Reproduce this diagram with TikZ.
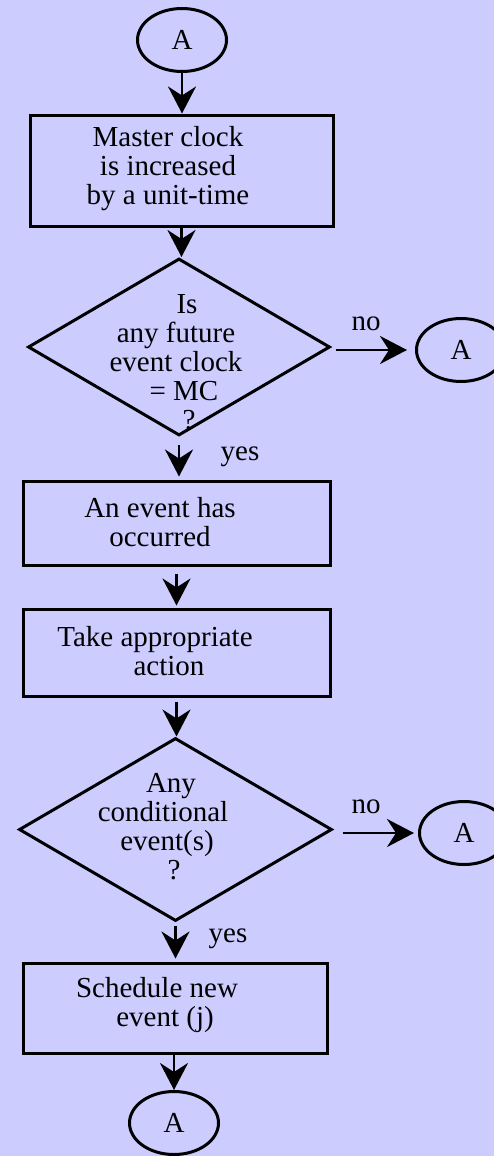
\documentclass[tikz,border=0pt]{standalone}
\usepackage{fontspec}
\setmainfont{Liberation Serif}
\usetikzlibrary{shapes.geometric,arrows.meta,calc}
\definecolor{bg}{HTML}{CCCCFF}

\begin{document}
\begin{tikzpicture}[x=1pt,y=-1pt,
  every node/.style={font=\fontsize{29}{29}\selectfont},
  stepbox/.style={draw,line width=3pt,rectangle,inner sep=0pt},
  decision/.style={draw,line width=3pt,diamond,inner sep=0pt},
  connector/.style={draw,line width=3pt,ellipse,inner sep=0pt,
    minimum width=89pt,minimum height=63pt},
  flow/.style={line width=2.8pt,-{Stealth[length=27pt,width=28pt,inset=9pt]}},
  lbl/.style={inner sep=0pt,align=center},
  tag/.style={inner sep=0pt,anchor=base}
]
\fill[bg] (0,0) rectangle (494,1156);
\useasboundingbox (0,0) rectangle (494,1156);

% shapes
\node[connector] (a0) at (182,40) {A};
\node[stepbox,minimum width=303pt,minimum height=111pt] (b1) at (181.5,170.5) {};
\node[lbl] (t1) at (168,169) {Master clock\\is increased\\by a unit-time};

\node[decision,minimum width=302pt,minimum height=177pt] (d1) at (179,347) {};
\node[lbl] (t2) at (176,362) {\hspace*{22pt}Is\\any future\\event clock\\\hspace*{16pt}= MC\\\hspace*{26pt}?};
\node[connector] (a1) at (461,350) {A};

\node[stepbox,minimum width=307pt,minimum height=84pt] (b2) at (176.5,523) {};
\node[lbl] (t3) at (160,522) {An event has\\occurred};

\node[stepbox,minimum width=307pt,minimum height=87pt] (b3) at (176.5,652.5) {};
\node[lbl] (t4) at (155,651) {Take appropriate\\\hspace*{28pt}action};

\node[decision,minimum width=313pt,minimum height=183pt] (d2) at (175.5,829.5) {};
\node[lbl] (t5) at (163,827) {\hspace*{16pt}Any\\conditional\\\hspace*{8pt}event(s)\\\hspace*{22pt}?};
\node[connector] (a2) at (464,833) {A};

\node[stepbox,minimum width=304pt,minimum height=90pt] (b4) at (175,1008) {};
\node[lbl] (t6) at (157,1005) {Schedule new\\\hspace*{16pt}event (j)};

\node[connector] (a3) at (174,1123) {A};

% branch labels
\node[tag] (no1) at (366,330) {no};
\node[tag] (yes1) at (240,460) {yes};
\node[tag] (no2) at (366,813) {no};
\node[tag] (yes2) at (228,942) {yes};

% connectors
\draw[flow] (a0.south) -- (a0.south |- b1.north);
\draw[flow] (b1.south) -- (b1.south |- d1.north);
\draw[flow,shorten <=8pt,shorten >=3pt] (d1.south) -- (d1.south |- b2.north);
\draw[flow,shorten <=4pt,shorten >=8pt] (d1.east |- a1.west) -- (a1.west);
\draw[flow,shorten <=7pt,shorten >=2pt] (b2.south) -- (b2.south |- b3.north);
\draw[flow,shorten <=4pt] (b3.south) -- (b3.south |- d2.north);
\draw[flow,shorten <=9pt,shorten >=4pt] (d2.east |- a2.west) -- (a2.west);
\draw[flow,shorten <=3pt,shorten >=3pt] (d2.south) -- (d2.south |- b4.north);
\draw[flow] (b4.south -| a3.north) -- (a3.north);
\end{tikzpicture}
\end{document}
